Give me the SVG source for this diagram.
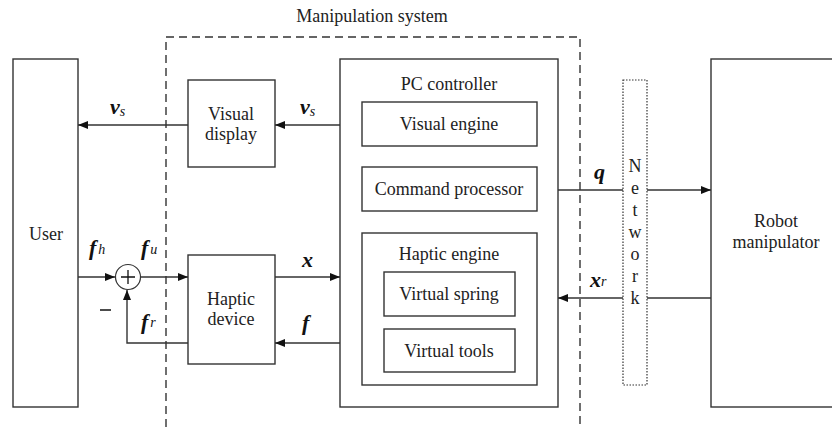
<svg xmlns="http://www.w3.org/2000/svg" width="832" height="428" viewBox="0 0 832 428">
  <style>
    .box { fill: none; stroke: #333; stroke-width: 1.4; }
    .line { fill: none; stroke: #333; stroke-width: 1.4; }
    .txt { font-size: 18px; fill: #222; text-anchor: middle; }
    .sym { font-size: 22px; font-weight: bold; font-style: italic; fill: #111; }
    .sub { font-size: 14px; font-weight: normal; font-style: italic; }
  </style>
  <defs>
    <marker id="arrow" viewBox="0 0 10 8" refX="10" refY="4" markerWidth="10" markerHeight="8" markerUnits="userSpaceOnUse" orient="auto">
      <path d="M0,0 L10,4 L0,8 Z" fill="#111"/>
    </marker>
  </defs>
  <rect width="832" height="428" fill="#fff"/>

  <g font-family="Liberation Serif, Times New Roman, Times, DejaVu Serif, serif">
  <!-- Manipulation system boundary -->
  <g id="manipulation-system">
    <path d="M166,440 L166,37 L580,37 L580,440" fill="none" stroke="#333" stroke-width="1.4" stroke-dasharray="8,5"/>
    <text class="txt" x="372" y="22">Manipulation system</text>
  </g>

  <g id="user">
    <rect class="box" x="13" y="59" width="65" height="348"/>
    <text class="txt" x="46" y="240">User</text>
  </g>

  <g id="visual-display">
    <rect class="box" x="188" y="80" width="87" height="87"/>
    <text class="txt" x="231" y="120">Visual</text>
    <text class="txt" x="231" y="140">display</text>
  </g>

  <g id="haptic-device">
    <rect class="box" x="188" y="255" width="87" height="109"/>
    <text class="txt" x="231" y="305">Haptic</text>
    <text class="txt" x="231" y="325">device</text>
  </g>

  <g id="pc-controller">
    <rect class="box" x="340" y="59" width="218" height="348"/>
    <text class="txt" x="449" y="90">PC controller</text>
  </g>

  <g id="visual-engine">
    <rect class="box" x="362" y="102" width="175" height="44"/>
    <text class="txt" x="449" y="130">Visual engine</text>
  </g>

  <g id="command-processor">
    <rect class="box" x="362" y="167" width="175" height="44"/>
    <text class="txt" x="449" y="195">Command processor</text>
  </g>

  <g id="haptic-engine">
    <rect class="box" x="362" y="233" width="175" height="152"/>
    <text class="txt" x="449" y="260">Haptic engine</text>
  </g>

  <g id="virtual-spring">
    <rect class="box" x="384" y="272" width="131" height="44"/>
    <text class="txt" x="449" y="300">Virtual spring</text>
  </g>

  <g id="virtual-tools">
    <rect class="box" x="384" y="329" width="131" height="43"/>
    <text class="txt" x="449" y="357">Virtual tools</text>
  </g>

  <g id="network">
    <rect x="623" y="80" width="24" height="305" fill="none" stroke="#333" stroke-width="1.2" stroke-dasharray="1.5,1.5"/>
    <text class="txt" x="635" y="172">N</text>
    <text class="txt" x="635" y="194">e</text>
    <text class="txt" x="635" y="216">t</text>
    <text class="txt" x="635" y="238">w</text>
    <text class="txt" x="635" y="260">o</text>
    <text class="txt" x="635" y="282">r</text>
    <text class="txt" x="635" y="304">k</text>
  </g>

  <g id="robot-manipulator">
    <rect class="box" x="711" y="59" width="130" height="348"/>
    <text class="txt" x="776" y="227">Robot</text>
    <text class="txt" x="776" y="248">manipulator</text>
  </g>

  <g id="summing-junction">
    <circle cx="128" cy="277" r="12.5" fill="#fff" stroke="#333" stroke-width="1.2"/>
    <path d="M121,277 H135 M128,270 V284" stroke="#111" stroke-width="1.3"/>
    <path d="M100,310 H111" stroke="#111" stroke-width="1.5"/>
  </g>

  <g id="connectors">
    <line class="line" x1="340" y1="125" x2="275" y2="125" marker-end="url(#arrow)"/>
    <line class="line" x1="188" y1="125" x2="78" y2="125" marker-end="url(#arrow)"/>
    <line class="line" x1="78" y1="277" x2="115" y2="277" marker-end="url(#arrow)"/>
    <line class="line" x1="141" y1="277" x2="188" y2="277" marker-end="url(#arrow)"/>
    <line class="line" x1="275" y1="277" x2="340" y2="277" marker-end="url(#arrow)"/>
    <line class="line" x1="340" y1="343" x2="275" y2="343" marker-end="url(#arrow)"/>
    <polyline class="line" points="188,343 127,343 127,290" marker-end="url(#arrow)"/>
    <line class="line" x1="558" y1="190" x2="623" y2="190"/>
    <line class="line" x1="647" y1="190" x2="711" y2="190" marker-end="url(#arrow)"/>
    <line class="line" x1="711" y1="298" x2="647" y2="298"/>
    <line class="line" x1="623" y1="298" x2="558" y2="298" marker-end="url(#arrow)"/>
  </g>

  <g id="signal-labels">
    <text class="sym" x="110" y="114">v<tspan class="sub" dy="2">s</tspan></text>
    <text class="sym" x="300" y="114">v<tspan class="sub" dy="2">s</tspan></text>
    <text class="sym" x="89" y="255">f<tspan class="sub" dx="2" dy="-1">h</tspan></text>
    <text class="sym" x="141" y="255">f<tspan class="sub" dx="2" dy="-1">u</tspan></text>
    <text class="sym" x="141" y="329">f<tspan class="sub" dx="2" dy="-2">r</tspan></text>
    <text class="sym" x="302" y="267">x</text>
    <text class="sym" x="302" y="330">f</text>
    <text class="sym" x="594" y="179">q</text>
    <text class="sym" x="590" y="287">x<tspan class="sub" dy="-1">r</tspan></text>
  </g>
  </g>
</svg>
